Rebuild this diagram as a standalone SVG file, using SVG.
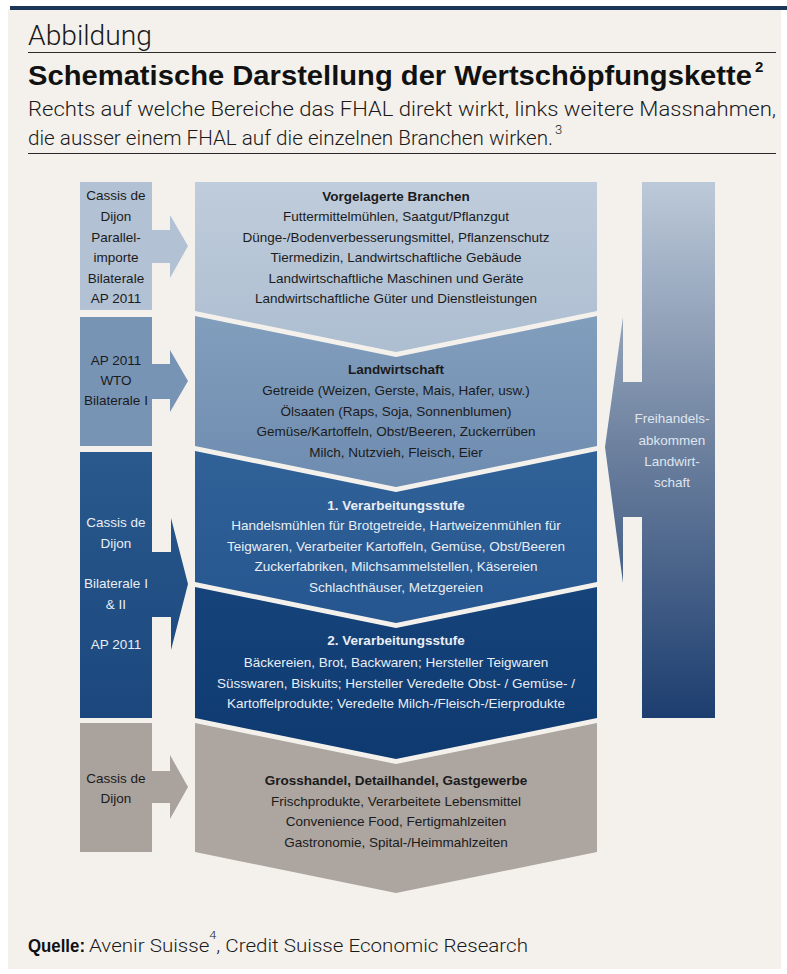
<svg xmlns="http://www.w3.org/2000/svg" width="787" height="974" viewBox="0 0 787 974">
  <defs>
    <linearGradient id="gRight" gradientUnits="userSpaceOnUse" x1="0" y1="182" x2="0" y2="718">
      <stop offset="0" stop-color="#bcc9d8"/>
      <stop offset="0.5" stop-color="#6c809e"/>
      <stop offset="1" stop-color="#1d3e70"/>
    </linearGradient>
    <linearGradient id="gBox3" gradientUnits="userSpaceOnUse" x1="0" y1="452" x2="0" y2="718">
      <stop offset="0" stop-color="#29598d"/>
      <stop offset="1" stop-color="#1b477d"/>
    </linearGradient>
    <linearGradient id="gC1" x1="0" y1="0" x2="0" y2="1">
      <stop offset="0" stop-color="#bfccdb"/>
      <stop offset="1" stop-color="#adbed1"/>
    </linearGradient>
    <linearGradient id="gC2" x1="0" y1="0" x2="0" y2="1">
      <stop offset="0" stop-color="#829ebd"/>
      <stop offset="1" stop-color="#6e8cb0"/>
    </linearGradient>
    <linearGradient id="gC3" x1="0" y1="0" x2="0" y2="1">
      <stop offset="0" stop-color="#306197"/>
      <stop offset="1" stop-color="#25568f"/>
    </linearGradient>
    <linearGradient id="gC4" x1="0" y1="0" x2="0" y2="1">
      <stop offset="0" stop-color="#15437a"/>
      <stop offset="1" stop-color="#0e3a70"/>
    </linearGradient>
  </defs>
  <style>
    .t { font-family: "Liberation Sans", Arial, sans-serif; font-size: 13.5px; text-anchor: middle; fill: #1b1b1b; }
    .w { fill: #e9eef5; }
    .lt { fill: #dfe5ee; }
    .b { font-weight: bold; }
    .hd { font-family: Roboto, "Liberation Sans", Arial, sans-serif; font-weight: 300; fill: #1a1a1a; }
    .rule { stroke: #2a2a2a; stroke-width: 1.2; }
  </style>

  <!-- page -->
  <rect x="0" y="0" width="787" height="974" fill="#ffffff"/>
  <rect x="8" y="9" width="773" height="960" fill="#f4f1ed"/>
  <rect x="10" y="6" width="777" height="4" fill="#1b3656"/>

  <!-- header -->
  <g id="header">
    <text class="hd" x="28" y="45" font-size="27" textLength="124" lengthAdjust="spacingAndGlyphs">Abbildung</text>
    <line class="rule" x1="28" y1="52.5" x2="776" y2="52.5"/>
    <text x="28" y="85" font-family="Liberation Sans, Arial, sans-serif" font-weight="bold" font-size="27" fill="#111" textLength="724" lengthAdjust="spacingAndGlyphs">Schematische Darstellung der Wertschöpfungskette</text>
    <text x="755" y="72" font-family="Liberation Sans, Arial, sans-serif" font-weight="bold" font-size="15" fill="#111">2</text>
    <text class="hd" x="28" y="116" font-size="20" textLength="748" lengthAdjust="spacingAndGlyphs">Rechts auf welche Bereiche das FHAL direkt wirkt, links weitere Massnahmen,</text>
    <text class="hd" x="28" y="145" font-size="20" textLength="525" lengthAdjust="spacingAndGlyphs">die ausser einem FHAL auf die einzelnen Branchen wirken.</text>
    <text class="hd" x="555" y="134" font-size="13">3</text>
    <line class="rule" x1="28" y1="153.5" x2="776" y2="153.5"/>
  </g>

  <!-- value chain stages -->
  <g id="stage-vorgelagert">
    <polygon points="195,182 597,182 597,311 396,352 195,311" fill="url(#gC1)"/>
    <text class="t b" x="396" y="201">Vorgelagerte Branchen</text>
    <text class="t" x="396" y="221">Futtermittelmühlen, Saatgut/Pflanzgut</text>
    <text class="t" x="396" y="242">Dünge-/Bodenverbesserungsmittel, Pflanzenschutz</text>
    <text class="t" x="396" y="262">Tiermedizin, Landwirtschaftliche Gebäude</text>
    <text class="t" x="396" y="283">Landwirtschaftliche Maschinen und Geräte</text>
    <text class="t" x="396" y="303">Landwirtschaftliche Güter und Dienstleistungen</text>
  </g>
  <g id="stage-landwirtschaft">
    <polygon points="195,316 396,357 597,316 597,446 396,487 195,446" fill="url(#gC2)"/>
    <text class="t b" x="396" y="374">Landwirtschaft</text>
    <text class="t" x="396" y="395">Getreide (Weizen, Gerste, Mais, Hafer, usw.)</text>
    <text class="t" x="396" y="416">Ölsaaten (Raps, Soja, Sonnenblumen)</text>
    <text class="t" x="396" y="436">Gemüse/Kartoffeln, Obst/Beeren, Zuckerrüben</text>
    <text class="t" x="396" y="457">Milch, Nutzvieh, Fleisch, Eier</text>
  </g>
  <g id="stage-verarbeitung-1">
    <polygon points="195,451 396,492 597,451 597,582 396,623 195,582" fill="url(#gC3)"/>
    <text class="t b w" x="396" y="510">1. Verarbeitungsstufe</text>
    <text class="t w" x="396" y="530">Handelsmühlen für Brotgetreide, Hartweizenmühlen für</text>
    <text class="t w" x="396" y="551">Teigwaren, Verarbeiter Kartoffeln, Gemüse, Obst/Beeren</text>
    <text class="t w" x="396" y="571">Zuckerfabriken, Milchsammelstellen, Käsereien</text>
    <text class="t w" x="396" y="592">Schlachthäuser, Metzgereien</text>
  </g>
  <g id="stage-verarbeitung-2">
    <polygon points="195,587 396,628 597,587 597,718 396,759 195,718" fill="url(#gC4)"/>
    <text class="t b w" x="396" y="645">2. Verarbeitungsstufe</text>
    <text class="t w" x="396" y="667">Bäckereien, Brot, Backwaren; Hersteller Teigwaren</text>
    <text class="t w" x="396" y="688">Süsswaren, Biskuits; Hersteller Veredelte Obst- / Gemüse- /</text>
    <text class="t w" x="396" y="708">Kartoffelprodukte; Veredelte Milch-/Fleisch-/Eierprodukte</text>
  </g>
  <g id="stage-handel">
    <polygon points="195,723 396,764 597,723 597,852 396,893 195,852" fill="#aca5a0"/>
    <text class="t b" x="396" y="785">Grosshandel, Detailhandel, Gastgewerbe</text>
    <text class="t" x="396" y="806">Frischprodukte, Verarbeitete Lebensmittel</text>
    <text class="t" x="396" y="826">Convenience Food, Fertigmahlzeiten</text>
    <text class="t" x="396" y="847">Gastronomie, Spital-/Heimmahlzeiten</text>
  </g>

  <!-- measures on the left -->
  <g id="measures-vorgelagert">
    <rect x="80" y="182" width="72" height="128" fill="#b2c1d3"/>
    <text class="t" x="116" y="200">Cassis de</text>
    <text class="t" x="116" y="221">Dijon</text>
    <text class="t" x="116" y="242">Parallel-</text>
    <text class="t" x="116" y="262">importe</text>
    <text class="t" x="116" y="283">Bilaterale</text>
    <text class="t" x="116" y="303">AP 2011</text>
  </g>
  <g id="measures-landwirtschaft">
    <rect x="80" y="317" width="72" height="129" fill="#7894b5"/>
    <text class="t" x="116" y="365">AP 2011</text>
    <text class="t" x="116" y="385">WTO</text>
    <text class="t" x="116" y="405">Bilaterale I</text>
  </g>
  <g id="measures-verarbeitung">
    <rect x="80" y="452" width="72" height="266" fill="url(#gBox3)"/>
    <text class="t w" x="116" y="527">Cassis de</text>
    <text class="t w" x="116" y="548">Dijon</text>
    <text class="t w" x="116" y="588">Bilaterale I</text>
    <text class="t w" x="116" y="609">&amp; II</text>
    <text class="t w" x="116" y="649">AP 2011</text>
  </g>
  <g id="measures-handel">
    <rect x="80" y="723" width="72" height="129" fill="#a9a29d"/>
    <text class="t" x="116" y="783">Cassis de</text>
    <text class="t" x="116" y="803">Dijon</text>
  </g>

  <!-- free trade agreement on the right -->
  <g id="fhal">
    <rect x="642" y="182" width="73" height="536" fill="url(#gRight)"/>
  </g>

  <!-- arrows -->
  <g id="connectors">
    <polygon points="151,230 170,230 170,215 188,246 170,278 170,263 151,263" fill="#b2c1d3"/>
    <polygon points="151,364 170,364 170,350 188,381 170,412 170,399 151,399" fill="#7894b5"/>
    <polygon points="151,552 171,552 171,518 188,584 171,650 171,617 151,617" fill="url(#gBox3)"/>
    <polygon points="151,771 170,771 170,755 188,787 170,819 170,803 151,803" fill="#a9a29d"/>
    <polygon points="643,382 623,382 623,317 605,447 623,583 623,517 643,517" fill="url(#gRight)"/>
  </g>

  <!-- label of the free trade agreement, drawn over bar and arrow -->
  <g id="fhal-label">
    <text class="t lt" x="672" y="423">Freihandels-</text>
    <text class="t lt" x="672" y="445">abkommen</text>
    <text class="t lt" x="672" y="466">Landwirt-</text>
    <text class="t lt" x="672" y="487">schaft</text>
  </g>

  <!-- source -->
  <g id="source" fill="#111">
    <text x="28" y="952" font-family="Liberation Sans, Arial, sans-serif" font-weight="bold" font-size="18" textLength="57" lengthAdjust="spacingAndGlyphs">Quelle:</text>
    <text class="hd" x="89" y="952" font-size="18" textLength="439" lengthAdjust="spacingAndGlyphs">Avenir Suisse<tspan dy="-13" font-size="11">4</tspan><tspan dy="13">, Credit Suisse Economic Research</tspan></text>
  </g>
</svg>
